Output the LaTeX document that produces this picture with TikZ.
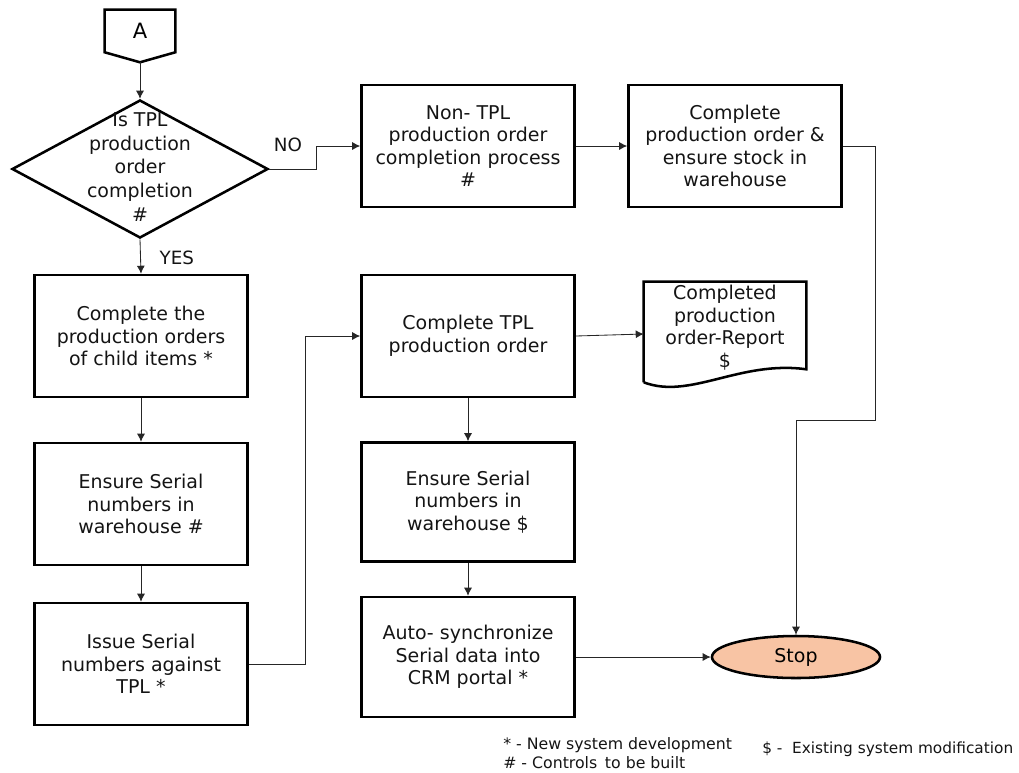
\documentclass[tikz,border=0pt]{standalone}
\usepackage{fontspec}
\setmainfont{DejaVu Sans}
\usetikzlibrary{
  arrows.meta,
  positioning,
  calc,
  shapes.geometric
}
\definecolor{StopPeach}{RGB}{248,196,164}
\definecolor{InkBlack}{RGB}{20,20,20}
\tikzset{
  procbox/.style={draw=black,line width=1.8pt,minimum width=5.325cm,minimum height=3.05cm,align=center,text=InkBlack,font=\fontsize{13.5}{16}\selectfont},
  decision/.style={diamond,draw=black,line width=1.8pt,minimum width=6.4cm,minimum height=3.45cm,inner sep=0pt},
  stopnode/.style={ellipse,draw=black,line width=1.8pt,fill=StopPeach,minimum width=4.2cm,minimum height=1.05cm,font=\fontsize{13.5}{16}\selectfont},
  flow/.style={-{Latex[length=2mm,width=2mm]},line width=0.6pt,draw=black!85},
  flowlabel/.style={font=\fontsize{13}{15}\selectfont,text=InkBlack},
  legend/.style={font=\fontsize{11.2}{13.5}\selectfont,align=left,text=InkBlack,inner sep=0pt}
}
\begin{document}
\begin{tikzpicture}[x=0.025cm,y=-0.025cm]
\useasboundingbox (0,0) rectangle (1019,772);

% Off-page connector and decision.
\node[minimum width=1.75cm,minimum height=1.05cm,font=\fontsize{15}{18}\selectfont] (conA) at (140,31) {A};
\draw[line width=1.8pt] (conA.south west) -- (conA.north west) -- (conA.north east) -- (conA.south east)
  -- ($(conA.south)+(0,10)$) -- cycle;
\coordinate (atip) at ($(conA.south)+(0,10)$);
\node[decision] (dec) at (140,169) {};
\node[align=center,text=InkBlack,font=\fontsize{13.5}{17}\selectfont] (dectext) at (140,167) {Is TPL\\production\\order\\completion\\\#};

% Left column.
\node[procbox] (childpo) at (141,336) {Complete the\\production orders\\of child items *};
\node[procbox] (ensureA) at (141,504) {Ensure Serial\\numbers in\\warehouse \#};
\node[procbox] (issue) at (141,664) {Issue Serial\\numbers against\\TPL *};

% Middle column.
\node[procbox] (nontpl) at (468,146) {Non- TPL\\production order\\completion process\\\#};
\node[procbox] (tplpo) at (468,336) {Complete TPL\\production order};
\node[procbox,minimum height=2.975cm] (ensureB) at (468,502) {Ensure Serial\\numbers in\\warehouse \$};
\node[procbox,minimum height=3cm] (autosync) at (468,657) {Auto- synchronize\\Serial data into\\CRM portal *};

% Right column.
\node[procbox] (stock) at (735,146) {Complete\\production order \&\\ensure stock in\\warehouse};
\node[minimum width=4.05cm,minimum height=2.6cm] (doc) at (725,334) {};
\node[align=center,text=InkBlack,font=\fontsize{13.5}{16}\selectfont] (doctext) at (doc.center) [yshift=4.5pt]
  {Completed\\production\\order-Report\\\$};
\draw[line width=1.8pt] ($(doc.south west)+(0,-4)$) -- (doc.north west) -- (doc.north east) -- ($(doc.south east)+(0,-17)$)
  .. controls (740,360) and (690,400) .. ($(doc.south west)+(0,-4)$);
\node[stopnode] (stop) at (796,657) {Stop};
\coordinate (bend) at (875,420);

% Connectors.
\draw[flow] (atip) -- (dec.north);
\draw[flow] (dec.south) -- node[flowlabel,right=10pt,pos=0.55] (yes) {YES} (childpo.north);
\draw[flow] (dec.east) -- ++(47,0) |- (nontpl.west);
\node[flowlabel] (no) at (288,145) {NO};
\draw[flow] (nontpl.east) -- (stock.west);
\draw[flow] (stock.east) -| (bend) -| (stop.north);
\draw[flow] (childpo.south) -- (ensureA.north);
\draw[flow] (ensureA.south) -- (issue.north);
\draw[flow] (issue.east) -- ++(57,0) |- (tplpo.west);
\draw[flow] (tplpo.east) -- (doc.west);
\draw[flow] (tplpo.south) -- (ensureB.north);
\draw[flow] (ensureB.south) -- (autosync.north);
\draw[flow] (autosync.east) -- (stop.west);

% Legend.
\node[legend,anchor=north west] (legA) at (503,737) {* - New system development\\\# - Controls\, to be built};
\node[legend,anchor=north west,font=\fontsize{10.9}{13.5}\selectfont] (legB) at (762,742) {\$ - \ Existing system modification};
\end{tikzpicture}
\end{document}
